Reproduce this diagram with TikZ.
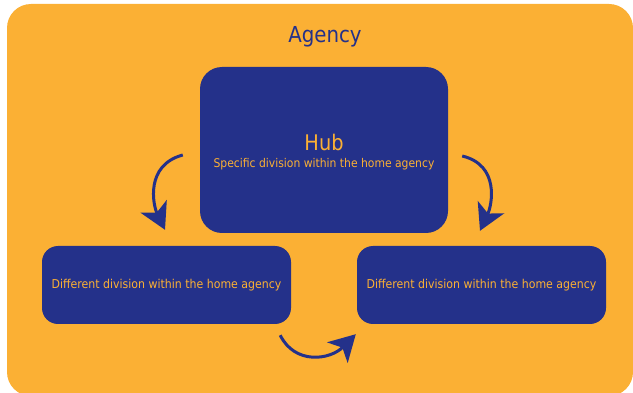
\documentclass[tikz,border=0pt]{standalone}
\usepackage{fontspec}
\setmainfont{DejaVu Sans Condensed}
\usetikzlibrary{arrows.meta,calc}
\definecolor{agencyorange}{RGB}{251,176,52}
\definecolor{hubblue}{RGB}{36,49,138}
\tikzset{
  division/.style={fill=hubblue, text=agencyorange, align=center, inner sep=0pt},
  flow/.style={draw=hubblue, line width=3pt,
    -{Stealth[length=26pt,width=29pt,inset=7pt]}},
}
\begin{document}
\begin{tikzpicture}[x=1pt,y=-1pt]
\useasboundingbox (0,0) rectangle (633,393);
\fill[white] (0,0) rectangle (633,393);
% agency background panel
\fill[agencyorange, rounded corners=24pt] (7,4) rectangle (633,396);
\node[text=hubblue, font=\fontsize{22}{24}\selectfont] (agency) at (325,37) {Agency};
% hub and divisions
\node[division, minimum width=248pt, minimum height=166pt, rounded corners=22pt] (hub) at (324,150) {};
\node[text=agencyorange, align=center, inner sep=0pt] (hubtext) at ($(hub.center)+(0,2)$)
  {{\fontsize{21.5}{22}\selectfont Hub}\\[5pt]{\fontsize{12}{14}\selectfont Specific division within the home agency}};
\node[division, minimum width=249pt, minimum height=78pt, rounded corners=16pt,
  font=\fontsize{12.2}{14}\selectfont] (left) at (166.5,285) {Different division within the home agency};
\node[division, minimum width=249pt, minimum height=78pt, rounded corners=16pt,
  font=\fontsize{12.2}{14}\selectfont] (right) at (481.5,285) {Different division within the home agency};
% arrow end points
\coordinate (ls) at ($(hub.west)+(-17,5)$);
\coordinate (lt) at ($(left.north)+(-1.5,-16)$);
\coordinate (rs) at ($(hub.east)+(14,6)$);
\coordinate (rt) at ($(right.north)+(-1.5,-15)$);
\coordinate (bs) at ($(left.south east)+(-11,11)$);
\coordinate (bt) at ($(right.south west)+(-1,10)$);
\draw[flow] (ls) .. controls (145,165) and (153,205) .. (lt);
\draw[flow] (rs) .. controls (500,165) and (492,205) .. (rt);
\draw[flow] (bs) .. controls (295,365) and (330,360) .. (bt);
\end{tikzpicture}
\end{document}
